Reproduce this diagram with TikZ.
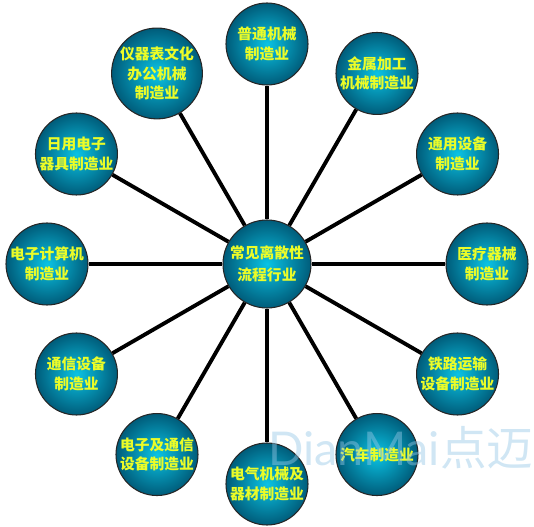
\documentclass[tikz,border=0pt]{standalone}
\usepackage{fontspec}
\newfontfamily\cjk{Noto Sans CJK SC}
\newfontfamily\markfont{Lato}
\definecolor{ballin}{RGB}{10,195,228}
\definecolor{ballout}{RGB}{0,92,122}
\definecolor{labelyellow}{RGB}{235,252,40}
\definecolor{markblue}{RGB}{150,200,230}

\begin{document}
\begin{tikzpicture}
\tikzstyle{ball} = [circle,draw=black!85,line width=0.6pt,inner color=ballin,outer color=ballout,minimum size=1.64cm,inner sep=0pt,align=center,text=labelyellow,font=\cjk\bfseries\fontsize{8.4}{11}\selectfont]
\tikzstyle{spoke} = [line width=2.2pt]
\useasboundingbox (-5.34,-5.26) rectangle (5.34,5.28);
\node[ball,minimum size=1.76cm,font=\cjk\bfseries\fontsize{8.4}{12.5}\selectfont] at (0,0) (hub) {常见离散性\\流程行业};
\foreach \ang/\txt [count=\i] in {90/普通机械\\制造业, 60/金属加工\\机械制造业, 30/通用设备\\制造业, 0/医疗器械\\制造业, -30/铁路运输\\设备制造业, -60/汽车制造业, -90/电气机械及\\器材制造业, -120/电子及通信\\设备制造业, -150/通信设备\\制造业, 180/电子计算机\\制造业, 150/日用电子\\器具制造业, 120/仪器表文化\\办公机械\\制造业}{
    \node[ball] at (\ang:4.4) (ind\i) {\txt};
    \draw[spoke] (hub) -- (ind\i);
}
% watermark
\node[anchor=base west,inner sep=0pt,text=markblue,text opacity=0.45,font=\fontsize{26.5}{26.5}\selectfont] at (0.02,-4.02) (mark) {\markfont DianMai\cjk 点迈};
\end{tikzpicture}
\end{document}
